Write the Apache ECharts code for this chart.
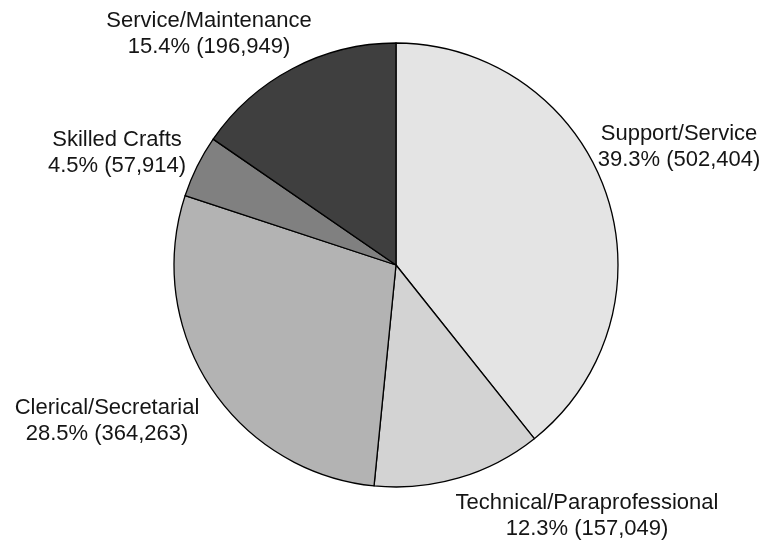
<!DOCTYPE html>
<html>
<head>
<meta charset="utf-8">
<script src="https://cdn.jsdelivr.net/npm/echarts@6/dist/echarts.min.js"></script>
<style>
  html, body { margin: 0; padding: 0; background: #fff; }
  #chart { width: 760px; height: 542px; }
</style>
</head>
<body>
<div id="chart"></div>
<script>
// Job categories, clockwise from 12 o'clock
const categories = [
  'Support/Service',
  'Technical/Paraprofessional',
  'Clerical/Secretarial',
  'Skilled Crafts',
  'Service/Maintenance'
];
const employees = [502404, 157049, 364263, 57914, 196949];
const sliceColors = ['#e4e4e4', '#d3d3d3', '#b3b3b3', '#808080', '#3f3f3f'];
// Label block centres (px) for each category
const labelCenters = [
  [679, 147],
  [587, 516],
  [107, 421],
  [117, 153],
  [209, 34]
];

const chart = echarts.init(document.getElementById('chart'), null, { renderer: 'canvas' });

const fmtNum = n => n.toLocaleString('en-US');

chart.setOption({
  animation: false,
  backgroundColor: '#ffffff',
  series: [{
    type: 'pie',
    center: [396, 265],
    radius: [0, 222],
    startAngle: 90,
    clockwise: true,
    percentPrecision: 1,
    avoidLabelOverlap: false,
    itemStyle: { borderColor: '#000', borderWidth: 1.3 },
    label: {
      show: true,
      position: 'outside',
      fontFamily: '"Liberation Sans", Arial, sans-serif',
      fontSize: 22,
      lineHeight: 26,
      color: '#151515',
      align: 'center',
      formatter: p => p.name + '\n' + p.percent.toFixed(1) + '% (' + fmtNum(p.value) + ')'
    },
    labelLine: { show: false },
    labelLayout: params => ({
      x: labelCenters[params.dataIndex][0],
      y: labelCenters[params.dataIndex][1],
      align: 'center',
      verticalAlign: 'middle'
    }),
    data: categories.map((name, i) => ({
      name,
      value: employees[i],
      itemStyle: { color: sliceColors[i] }
    }))
  }]
});
</script>
</body>
</html>
